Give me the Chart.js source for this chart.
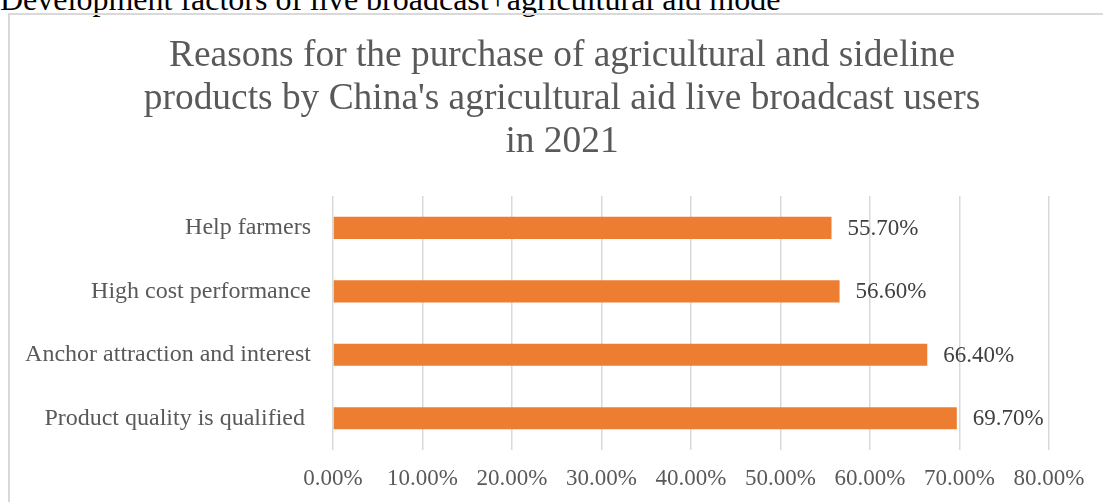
<!DOCTYPE html>
<html>
<head>
<meta charset="utf-8">
<script src="https://cdn.jsdelivr.net/npm/chart.js@4.4.1/dist/chart.umd.min.js"></script>
<style>
  html, body { margin: 0; padding: 0; background: #fff; overflow: hidden; }
  body { width: 1103px; height: 502px; position: relative; }
  #heading {
    position: absolute; left: 0; top: -17px;
    font: 32px/32px "Liberation Serif", "Times New Roman", serif;
    color: #000; white-space: nowrap;
  }
  #frame {
    position: absolute; left: 8px; top: 13px;
    width: 1110px; height: 510px;
    border: 2px solid #d9d9d9; box-sizing: border-box;
  }
  #chartBox { position: absolute; left: 9px; top: 22px; width: 1106px; height: 480px; }
</style>
</head>
<body>
<div id="heading">Development factors of live broadcast+agricultural aid mode</div>
<div id="frame"></div>
<div id="chartBox"><canvas id="reasonChart"></canvas></div>
<script>
const reasons = ['Help farmers', 'High cost performance', 'Anchor attraction and interest', 'Product quality is qualified '];
const shares = [55.7, 56.6, 66.4, 69.7];
const xTicks = [0, 10, 20, 30, 40, 50, 60, 70, 80];
const chartTitle = [
    'Reasons for the purchase of agricultural and sideline',
    "products by China's agricultural aid live broadcast users",
    'in 2021'
];

const serif = '"Liberation Serif", "Times New Roman", serif';

// writes the percentage next to the end of each bar
const valueLabels = {
    id: 'valueLabels',
    afterDatasetsDraw(chart) {
        const ctx = chart.ctx;
        const meta = chart.getDatasetMeta(0);
        ctx.save();
        ctx.font = '23px ' + serif;
        ctx.fillStyle = '#404040';
        ctx.textAlign = 'left';
        ctx.textBaseline = 'middle';
        meta.data.forEach((bar, i) => {
            ctx.fillText(shares[i].toFixed(2) + '%', bar.x + 16, bar.y + 1);
        });
        ctx.restore();
    }
};

const ctx = document.getElementById('reasonChart').getContext('2d');
new Chart(ctx, {
    type: 'bar',
    data: {
        labels: reasons,
        datasets: [{
            data: shares,
            backgroundColor: '#ED7D31',
            borderWidth: 0,
            barPercentage: 0.35,
            categoryPercentage: 1
        }]
    },
    options: {
        indexAxis: 'y',
        responsive: true,
        maintainAspectRatio: false,
        animation: false,
        layout: { padding: 0 },
        plugins: {
            legend: { display: false },
            tooltip: { enabled: false },
            title: {
                display: true,
                text: chartTitle,
                color: '#595959',
                font: { family: serif, size: 37.4, weight: 'normal', lineHeight: 1.15 },
                padding: { top: 13, bottom: 32 }
            }
        },
        scales: {
            x: {
                min: 0,
                max: 80,
                afterBuildTicks(scale) {
                    scale.ticks = xTicks.map(v => ({ value: v }));
                },
                afterFit(scale) { scale.height = 52; },
                grid: { color: '#d9d9d9', lineWidth: 1.5, drawTicks: false },
                border: { display: false },
                ticks: {
                    color: '#595959',
                    padding: 15,
                    font: { family: serif, size: 23 },
                    callback: v => v.toFixed(2) + '%'
                }
            },
            y: {
                afterFit(scale) { scale.width = 324; },
                grid: { display: false, drawTicks: false },
                border: { display: false },
                ticks: {
                    color: '#595959',
                    padding: 22,
                    font: { family: serif, size: 24 }
                }
            },
            // empty strip on the right so the plot stops short of the frame edge
            rightGap: {
                type: 'linear',
                position: 'right',
                afterFit(scale) { scale.width = 66; },
                grid: { display: false, drawTicks: false },
                border: { display: false },
                ticks: { display: false }
            }
        }
    },
    plugins: [valueLabels]
});
</script>
</body>
</html>
